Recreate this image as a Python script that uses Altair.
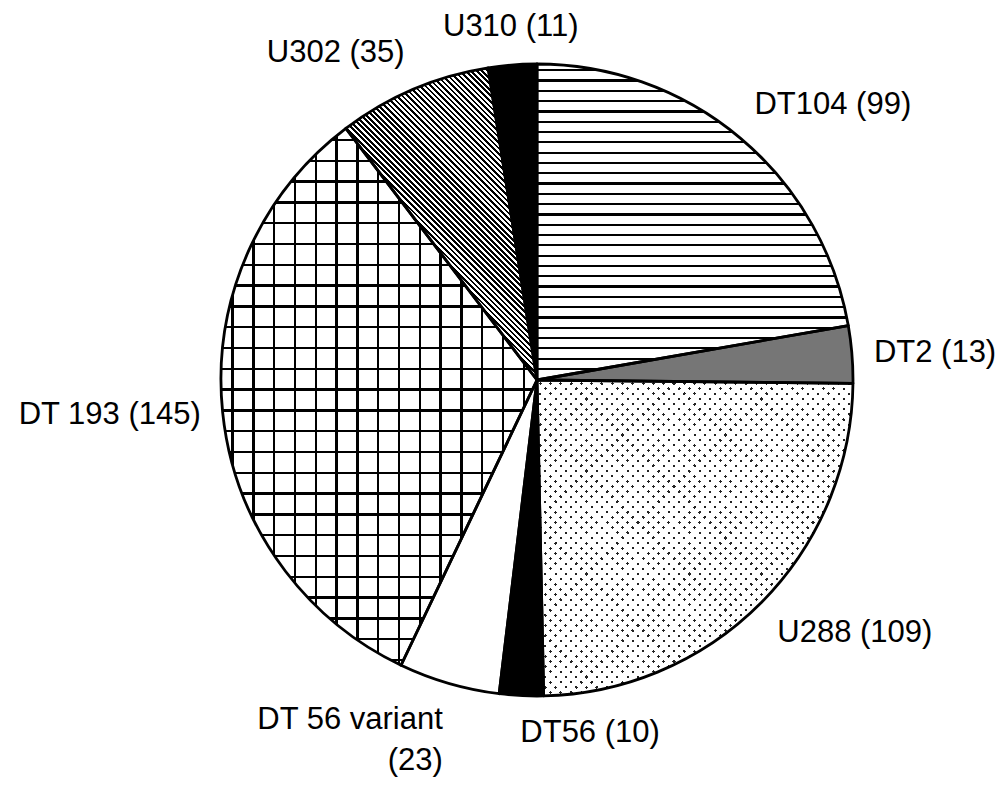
import math
import altair as alt
import pandas as pd

# ---- data ----
categories = ["DT104", "DT2", "U288", "DT56", "DT 56 variant", "DT 193", "U302", "U310"]
counts = [99, 13, 109, 10, 23, 145, 35, 11]
label_texts = ["DT104 (99)", "DT2 (13)", "U288 (109)", "DT56 (10)",
               "DT 56 variant\n(23)", "DT 193 (145)", "U302 (35)", "U310 (11)"]

df = pd.DataFrame({"cat": categories, "count": counts,
                   "label": label_texts, "order": list(range(len(categories)))})

TOTAL = sum(counts)
R = 316            # pie radius (px)
LABEL_R = R + 22   # label anchor radius (px)
HALF = 370         # half of the square plot area

T = "rgba(0,0,0,0)"


# ---- pattern helpers (style only) ----
def wedge_bbox(a0, a1, r):
    pts = [(0.0, 0.0)]
    for a in (a0, a1):
        t = math.radians(a)
        pts.append((r * math.sin(t), -r * math.cos(t)))
    for c in (0, 90, 180, 270, 360):
        if a0 <= c <= a1:
            t = math.radians(c)
            pts.append((r * math.sin(t), -r * math.cos(t)))
    xs = [p[0] for p in pts]
    ys = [p[1] for p in pts]
    return max(xs) - min(xs), max(ys) - min(ys)


def stripe_stops(L, period, thick, line, bg):
    stops = [(0.0, bg)]
    pos = period * 0.5
    while pos < L:
        a = pos / L
        b = min((pos + thick) / L, 1.0)
        stops += [(a, bg), (a, line), (b, line), (b, bg)]
        pos += period
    stops.append((1.0, bg))
    return [{"offset": round(o, 6), "color": c} for o, c in stops]


def gradient(kind, W, H, period, thick, line, bg):
    if kind == "h":
        x1, y1, x2, y2, L = 0, 0, 0, 1, H
    elif kind == "v":
        x1, y1, x2, y2, L = 0, 0, 1, 0, W
    else:
        r = H / W
        s = (1 + r) / (1 + r * r)
        L = (W + H) / math.sqrt(2)
        if kind == "d1":   # lines running down-right
            x1, y1, x2, y2 = 0, 1, s, 1 - s * r
        else:              # lines running up-right
            x1, y1, x2, y2 = 0, 0, s, s * r
    return {"gradient": "linear", "x1": x1, "y1": y1, "x2": x2, "y2": y2,
            "stops": stripe_stops(L, period, thick, line, bg)}


# angular extents (degrees) used only to size the patterns
bboxes = {}
acc = 0
for c, n in zip(categories, counts):
    a0 = acc / TOTAL * 360
    acc += n
    a1 = acc / TOTAL * 360
    bboxes[c] = wedge_bbox(a0, a1, R)


def fills_for(cat):
    W, H = bboxes[cat]
    if cat == "DT104":
        return [gradient("h", W, H, 10.3, 2.2, "#000000", "#ffffff")]
    if cat == "DT2":
        return ["#767676"]
    if cat == "U288":
        return ["#222222",
                gradient("d1", W, H, 7.28, 2.2, T, "#ffffff"),
                gradient("d2", W, H, 7.28, 2.2, T, "#ffffff")]
    if cat in ("DT56", "U310"):
        return ["#000000"]
    if cat == "DT 56 variant":
        return ["#ffffff"]
    if cat == "DT 193":
        return ["#ffffff",
                gradient("h", W, H, 20.8, 2.5, "#000000", T),
                gradient("v", W, H, 20.8, 2.5, "#000000", T)]
    if cat == "U302":
        return [gradient("d1", W, H, 3.9, 1.9, "#000000", "#ffffff")]
    return ["#ffffff"]


base = alt.Chart(df).transform_window(
    cum="sum(count)", sort=[alt.SortField("order")]
).transform_calculate(
    start="datum.cum - datum.count"
).transform_calculate(
    end="datum.cum"
)

theta_scale = alt.Scale(domain=[0, TOTAL], range=[0, 2 * math.pi])

layers = []
for cat in categories:
    for f in fills_for(cat):
        layers.append(
            base.transform_filter(alt.datum.cat == cat)
            .mark_arc(radius=R, fill=f)
            .encode(theta=alt.Theta("start:Q", scale=theta_scale, stack=False),
                    theta2=alt.Theta2("end:Q"))
        )

# outlines
layers.append(
    base.mark_arc(radius=R, fill=T, stroke="#000000", strokeWidth=2.8, strokeJoin="round")
    .encode(theta=alt.Theta("start:Q", scale=theta_scale, stack=False),
            theta2=alt.Theta2("end:Q"))
)

# labels
lab = base.transform_calculate(
    a=f"PI * (datum.start + datum.end) / {TOTAL}"
).transform_calculate(
    lx=f"{LABEL_R} * sin(datum.a)"
).transform_calculate(
    ly=f"{LABEL_R} * cos(datum.a)"
).transform_calculate(
    hpos="(cos(datum.a) > 0 && abs(sin(datum.a)) < 0.2) ? 'center' : (sin(datum.a) > -0.2 ? 'left' : 'right')"
).transform_calculate(
    vpos="cos(datum.a) > 0.5 ? 'bottom' : (cos(datum.a) < -0.5 ? 'top' : 'middle')"
)

xs = alt.Scale(domain=[-HALF, HALF], nice=False, zero=False)
ys = alt.Scale(domain=[-HALF, HALF], nice=False, zero=False)

for h in ("left", "center", "right"):
    for v in ("top", "middle", "bottom"):
        layers.append(
            lab.transform_filter(f"datum.hpos == '{h}' && datum.vpos == '{v}'")
            .mark_text(align=h, baseline=v, fontSize=31, lineHeight=41,
                       lineBreak="\n", font="Liberation Sans, Arial, sans-serif",
                       color="#000000")
            .encode(x=alt.X("lx:Q", scale=xs, axis=None),
                    y=alt.Y("ly:Q", scale=ys, axis=None),
                    text="label:N")
        )

chart = alt.layer(*layers).properties(
    width=2 * HALF, height=2 * HALF,
    padding={"left": 159, "top": 2, "right": 92, "bottom": 29},
    autosize=alt.AutoSizeParams(type="none"),
    background="#ffffff",
).configure_view(stroke="transparent")

chart.save("out.html", embed_options={"renderer": "svg", "actions": False})
